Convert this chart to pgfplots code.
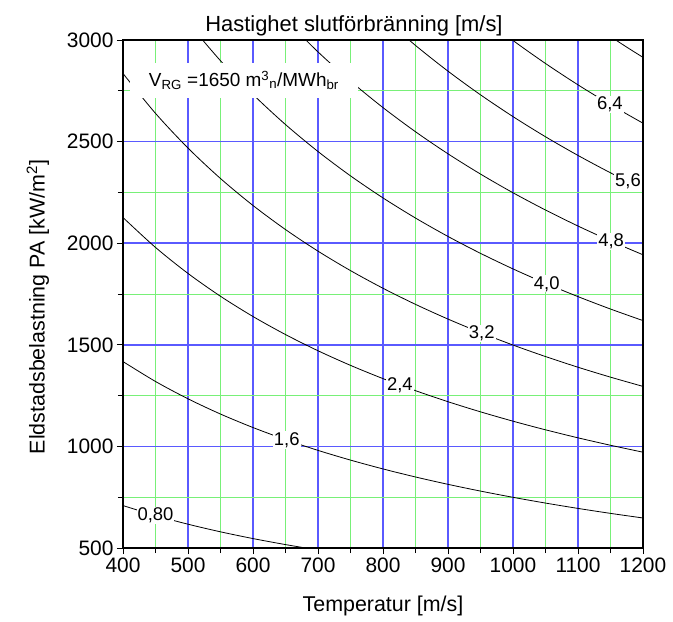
\documentclass[border=0pt]{standalone}
\usepackage{pgfplots}
\pgfplotsset{compat=1.18}
\usepackage{fontspec}
\setmainfont{Liberation Sans}
\definecolor{majgrid}{RGB}{90,90,255}
\definecolor{mingrid}{RGB}{120,240,120}
\begin{document}
\begin{tikzpicture}
\begin{axis}[
  at={(0,0)}, anchor=south west,
  scale only axis, width=520bp, height=508bp,
  xmin=400, xmax=1200, ymin=500, ymax=3000,
  xtick={400,500,...,1200}, ytick={500,1000,...,3000},
  minor x tick num=1, minor y tick num=1,
  xtick pos=left, ytick pos=left,
  tick align=outside,
  major tick length=6bp, minor tick length=5bp,
  tick style={black, line width=0.9bp},
  axis line style={black, line width=1.6bp},
  grid=both,
  major grid style={majgrid, line width=1.5bp},
  minor grid style={mingrid, line width=0.8bp},
  /pgf/number format/assume math mode=true,
  /pgf/number format/1000 sep={},
  tick label style={font=\fontsize{21}{23}\selectfont},
  title={Hastighet slutförbränning [m/s]},
  title style={font=\fontsize{22}{24}\selectfont, yshift=-6bp, xshift=-29bp},
  xlabel={Temperatur [m/s]},
  ylabel={Eldstadsbelastning PA [kW/m\textsuperscript{2}]},
  label style={font=\fontsize{21.5}{23}\selectfont},
  xlabel style={yshift=-17bp},
  ylabel style={yshift=11bp, xshift=-13bp},
]
\addplot[black, line width=0.8bp, smooth] coordinates {
(400,708.8)(450,659.7)(500,617.1)(550,579.6)(600,546.4)(650,516.8)(700,490.2)};
\addplot[black, line width=0.8bp, smooth] coordinates {
(400,1417.5)(450,1319.5)(500,1234.2)(550,1159.2)(600,1092.8)(650,1033.6)(700,980.4)(750,932.6)(800,889.1)(850,849.5)(900,813.3)(950,780.1)(1000,749.4)(1050,721.1)(1100,694.8)(1150,670.4)(1200,647.7)};
\addplot[black, line width=0.8bp, smooth] coordinates {
(400,2126.3)(450,1979.2)(500,1851.2)(550,1738.8)(600,1639.2)(650,1550.4)(700,1470.7)(750,1398.8)(800,1333.6)(850,1274.3)(900,1219.9)(950,1170.1)(1000,1124.1)(1050,1081.6)(1100,1042.2)(1150,1005.6)(1200,971.5)};
\addplot[black, line width=0.8bp, smooth] coordinates {
(400,2835.1)(450,2639.0)(500,2468.3)(550,2318.3)(600,2185.6)(650,2067.2)(700,1960.9)(750,1865.1)(800,1778.2)(850,1699.0)(900,1626.6)(950,1560.1)(1000,1498.8)(1050,1442.2)(1100,1389.6)(1150,1340.8)(1200,1295.3)};
\addplot[black, line width=0.8bp, smooth] coordinates {
(500,3085.4)(550,2897.9)(600,2732.0)(650,2583.9)(700,2451.2)(750,2331.4)(800,2222.8)(850,2123.8)(900,2033.2)(950,1950.1)(1000,1873.5)(1050,1802.7)(1100,1737.1)(1150,1676.0)(1200,1619.1)};
\addplot[black, line width=0.8bp, smooth] coordinates {
(650,3100.8)(700,2941.4)(750,2797.7)(800,2667.3)(850,2548.5)(900,2439.9)(950,2340.2)(1000,2248.2)(1050,2163.3)(1100,2084.5)(1150,2011.2)(1200,1943.0)};
\addplot[black, line width=0.8bp, smooth] coordinates {
(800,3111.8)(850,2973.3)(900,2846.6)(950,2730.2)(1000,2623.0)(1050,2523.8)(1100,2431.9)(1150,2346.4)(1200,2266.8)};
\addplot[black, line width=0.8bp, smooth] coordinates {
(950,3120.2)(1000,2997.6)(1050,2884.4)(1100,2779.3)(1150,2681.6)(1200,2590.6)};
\addplot[black, line width=0.8bp, smooth] coordinates {
(1150,3016.9)(1175,2964.8)(1200,2914.5)};
\begin{scope}[every node/.style={fill=white, inner sep=1bp, font=\fontsize{18.5}{20}\selectfont}]
\node at (axis cs:450,660) {0,80};
\node at (axis cs:652,1032) {1,6};
\node at (axis cs:826,1302) {2,4};
\node at (axis cs:952,1557) {3,2};
\node at (axis cs:1052,1800) {4,0};
\node at (axis cs:1151,2010) {4,8};
\node at (axis cs:1177,2303) {5,6};
\node at (axis cs:1149,2683) {6,4};
\end{scope}
\node[fill=white, minimum width=228bp, minimum height=35bp, inner sep=0pt, font=\fontsize{19}{21}\selectfont] at (axis cs:586,2801)
  {V\textsubscript{RG} =1650 m\textsuperscript{3}\textsubscript{n}/MWh\textsubscript{br}};
\end{axis}
\pgfresetboundingbox
\path[use as bounding box] (-123bp,-74bp) rectangle (550bp,548bp);
\end{tikzpicture}
\end{document}
